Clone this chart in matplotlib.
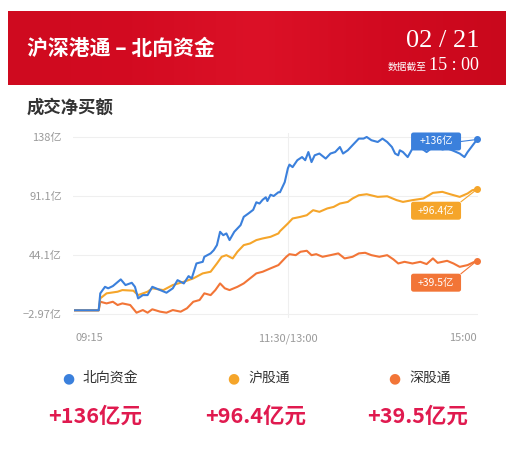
import numpy as np
import matplotlib
matplotlib.use('Agg')
import matplotlib.pyplot as plt
from matplotlib.patches import FancyBboxPatch
from matplotlib.lines import Line2D
from matplotlib.colors import LinearSegmentedColormap

plt.rcParams['font.family'] = ['Noto Sans CJK SC', 'DejaVu Sans']

# ----------------------------------------------------------------------
# data: trading minutes since 09:15 (lunch break removed), value in 亿
# ----------------------------------------------------------------------
north_t = [0, 15, 16, 19, 21, 24, 29, 32, 36, 38, 40, 43, 46, 49, 54, 58, 62, 65, 69, 72,
           74, 77, 81, 82, 86, 88, 90, 92, 94, 96, 98, 101, 105, 107, 110, 113, 115, 117,
           119, 121, 122, 124, 126, 129, 130, 133, 135, 136, 138, 141, 144, 146, 148, 150,
           152, 155, 159, 162, 165, 168, 170, 173, 176, 180, 183, 185, 188, 192, 195, 198,
           201, 203, 205, 206, 208, 211, 214, 217, 220, 223, 227, 230, 233, 236, 240, 244,
           247, 249, 252, 255]
north_v = [0, 0, 13.5, 18.7, 17.5, 19.3, 24.6, 20.1, 21.9, 18.7, 9.5, 12.1, 12.1, 18.7, 16.1,
           14.0, 17.5, 24.0, 21.4, 27.2, 25.4, 37.3, 38.6, 42.6, 45.3, 47.9, 51.9, 62.5, 59.8,
           61.2, 55.9, 62.5, 67.8, 74.4, 77.1, 80.0, 86.0, 85.0, 88.0, 90.0, 87.0, 92.0, 91.0,
           94.0, 94.0, 102.0, 113.0, 116.0, 114.0, 119.5, 122.0, 119.5, 126.0, 118.0, 123.4,
           124.8, 120.8, 124.8, 126.0, 130.0, 124.8, 127.4, 131.4, 136.7, 136.7, 138.0, 135.4,
           134.0, 136.7, 134.0, 130.0, 124.8, 123.4, 127.4, 126.0, 122.0, 128.7, 130.0, 128.7,
           126.0, 130.0, 131.0, 128.0, 129.0, 127.0, 124.8, 122.0, 126.0, 131.0, 136.0]

sh_t = [0, 15, 16, 20, 27, 30, 37, 40, 46, 49, 56, 62, 69, 75, 81, 86, 90, 93, 96, 100, 103,
        107, 111, 115, 119, 124, 129, 130, 135, 138, 143, 147, 151, 155, 160, 164, 168, 173,
        176, 180, 185, 192, 198, 204, 208, 214, 221, 227, 233, 238, 244, 249, 252, 255]
sh_v = [0, 0, 9.5, 13.5, 14.8, 16.1, 15.6, 12.1, 14.8, 17.5, 16.1, 20.1, 22.7, 25.4, 29.4,
        30.7, 37.3, 42.6, 43.9, 41.3, 46.6, 51.9, 53.2, 55.9, 57.2, 58.5, 61.2, 63.0, 69.1,
        73.1, 74.4, 75.7, 79.7, 78.4, 81.1, 82.3, 85.0, 86.3, 89.0, 91.6, 92.4, 90.3, 90.8,
        87.7, 86.3, 87.7, 89.0, 93.5, 94.3, 92.4, 90.3, 93.0, 95.6, 96.4]

sz_t = [0, 15, 16, 20, 24, 27, 30, 35, 39, 43, 46, 49, 54, 58, 62, 67, 71, 75, 79, 82, 86,
        89, 92, 95, 98, 103, 107, 111, 115, 119, 124, 129, 130, 134, 136, 140, 143, 147, 150,
        153, 157, 162, 167, 171, 176, 180, 184, 188, 193, 198, 202, 205, 209, 214, 219, 223,
        227, 230, 236, 240, 244, 249, 252, 255]
sz_v = [0, 0, 6.8, 5.5, 6.8, 4.2, 5.5, 4.2, -1.9, 0.2, -1.9, 0.8, -1.1, -1.9, 0.2, -1.1, 1.6,
        6.8, 8.2, 13.5, 12.1, 16.1, 21.4, 17.5, 16.1, 18.7, 21.4, 25.4, 29.4, 30.7, 33.4, 36.0,
        37.3, 42.6, 44.7, 43.9, 46.6, 47.4, 43.9, 44.7, 42.6, 43.9, 45.3, 41.3, 42.6, 45.3,
        45.8, 43.9, 42.6, 43.9, 40.5, 37.3, 38.6, 37.3, 38.6, 36.8, 41.3, 37.8, 39.4, 37.3,
        34.6, 36.0, 37.8, 39.5]

y_ticks = [-2.97, 44.1, 91.1, 138]
y_tick_labels = ['\u22122.97亿', '44.1亿', '91.1亿', '138亿']
x_ticks = [0, 135, 255]
x_tick_labels = ['09:15', '11:30/13:00', '15:00']

names = ['北向资金', '沪股通', '深股通']
totals = ['+136亿元', '+96.4亿元', '+39.5亿元']
end_tags = ['+136亿', '+96.4亿', '+39.5亿']
colors = ['#3b80dc', '#f5a52a', '#f27537']

W, H = 514, 451
fig = plt.figure(figsize=(W / 100, H / 100), dpi=100)
fig.patch.set_facecolor('white')


def fx(x):
    return x / W


def fy(y):
    return 1 - y / H


# ----------------------------------------------------------------------
# header banner
# ----------------------------------------------------------------------
ban = fig.add_axes([fx(8), fy(85), fx(506) - fx(8), fy(11) - fy(85)])
cmap = LinearSegmentedColormap.from_list(
    'ban', ['#cf0a1f', '#d30b21', '#dc1127', '#d20a20', '#c9081c'])
grad = np.linspace(0, 1, 256).reshape(1, -1)
ban.imshow(grad, aspect='auto', cmap=cmap, extent=[0, 1, 0, 1])
ban.set_axis_off()

fig.text(fx(27), fy(48), '沪深港通 \u2013 北向资金', color='white', fontsize=15,
         fontweight='bold', va='center', ha='left')
fig.text(fx(479), fy(47), '02 / 21', color='white', fontsize=19,
         family='Liberation Serif', va='baseline', ha='right')
fig.text(fx(479), fy(70), '15 : 00', color='white', fontsize=13,
         family='Liberation Serif', va='baseline', ha='right')
fig.text(fx(427), fy(70), '数据截至', color='white', fontsize=7,
         va='baseline', ha='right')

fig.text(fx(27), fy(108), '成交净买额', color='#333333', fontsize=12.5,
         fontweight='bold', va='center', ha='left')

# ----------------------------------------------------------------------
# chart
# ----------------------------------------------------------------------
pad = 3.0
ax = fig.add_axes([fx(73), fy(317.8), fx(478) - fx(73), fy(133.2) - fy(317.8)])
ax.set_xlim(-1.3, 255.6)
ax.set_ylim(-2.97 - pad, 138 + pad)
for s in ax.spines.values():
    s.set_visible(False)
ax.set_yticks(y_ticks)
ax.set_yticklabels(y_tick_labels)
ax.set_xticks(x_ticks)
ax.set_xticklabels(x_tick_labels)
ax.tick_params(length=0, colors='#9a9a9a', labelsize=8)
ax.tick_params(axis='y', pad=8)
ax.tick_params(axis='x', pad=11)
xl = ax.get_xticklabels()
xl[0].set_ha('left')
xl[-1].set_ha('right')
ax.grid(axis='y', color='#efefef', lw=0.8)
ax.axvline(135, color='#efefef', lw=0.8, zorder=0)

series = [(north_t, north_v), (sh_t, sh_v), (sz_t, sz_v)]
for i in [2, 1, 0]:
    t, v = series[i]
    ax.plot(t, v, color=colors[i], lw=1.5, zorder=3 + (2 - i), clip_on=False)
    ax.plot(t[-1], v[-1], 'o', color=colors[i], ms=4, zorder=6, clip_on=False)

# end value tags
box_dy = [-2, -21.5, -22]      # box centre offset from end point, px (up +)
link_dy = [0, 9, 9]            # where the link leaves the box, px from centre
for i in range(3):
    t, v = series[i]
    ex, ey = ax.transData.transform((t[-1], v[-1]))
    cx, cy = ex - 41, ey + box_dy[i]
    bx = FancyBboxPatch((fx(cx - 25), (cy - 9) / H), 50 / W, 18 / H,
                        boxstyle='round,pad=0,rounding_size=0.005',
                        transform=fig.transFigure, facecolor=colors[i],
                        edgecolor='none', zorder=10)
    fig.patches.append(bx)
    fig.text(fx(cx), cy / H, end_tags[i], color='white', fontsize=7.5,
             ha='center', va='center', zorder=11)
    fig.lines.append(Line2D([fx(cx + 25), fx(ex)], [(cy + link_dy[i]) / H, ey / H],
                            transform=fig.transFigure, color=colors[i], lw=0.8,
                            zorder=9))

# ----------------------------------------------------------------------
# legend + totals
# ----------------------------------------------------------------------
dot_x = [68, 233, 394]
val_x = [95, 256, 418]
for i in range(3):
    fig.text(fx(dot_x[i]), fy(378), '\u25cf', color=colors[i], fontsize=10,
             family='DejaVu Sans', ha='center', va='center')
    fig.text(fx(dot_x[i] + 15), fy(378), names[i], color='#333333', fontsize=10,
             ha='left', va='center')
    fig.text(fx(val_x[i]), fy(416), totals[i], color='#e01a4f', fontsize=15.5,
             fontweight='bold', ha='center', va='center')

fig.savefig('out.png', dpi=100, facecolor='white')
